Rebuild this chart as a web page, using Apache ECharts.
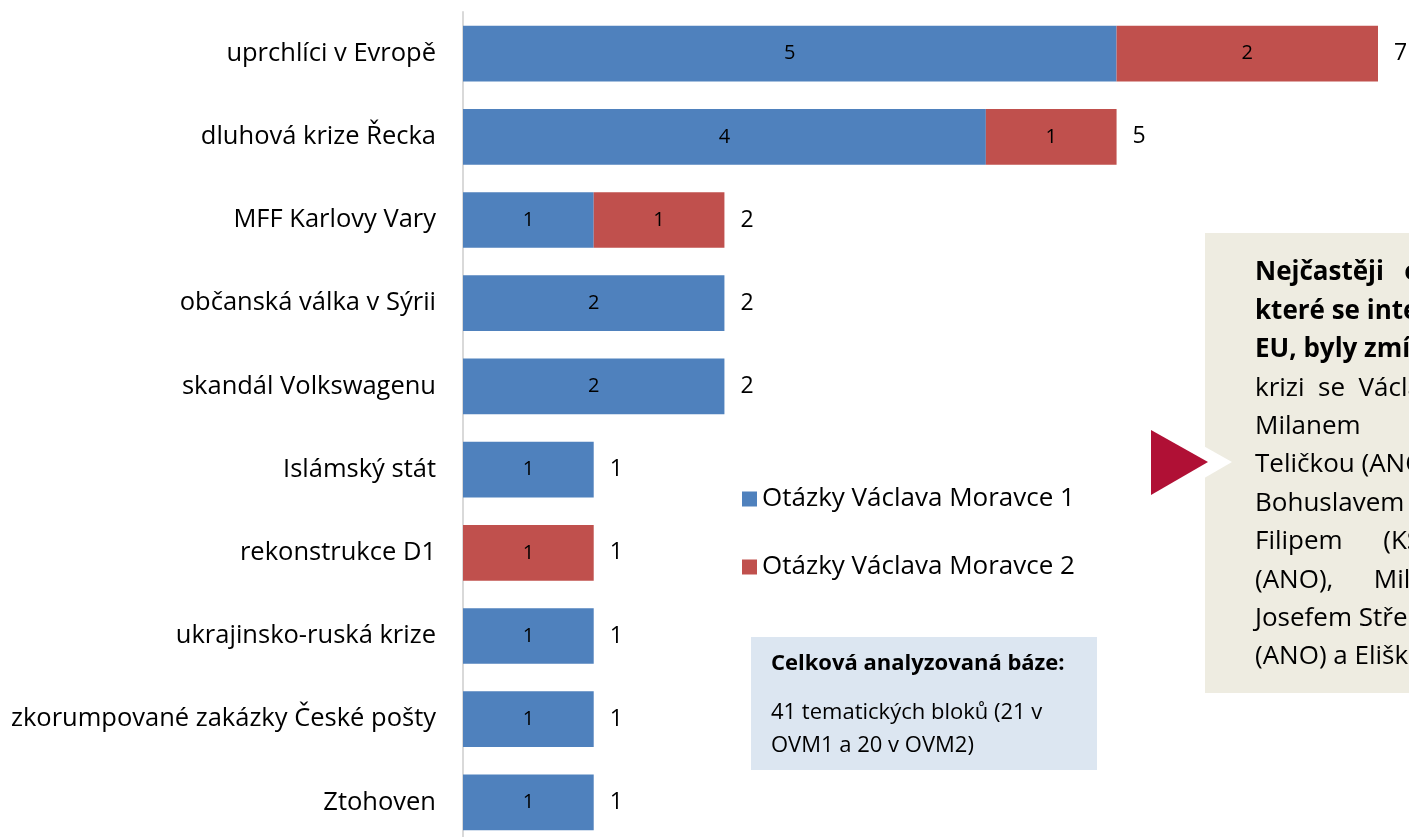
<!DOCTYPE html>
<html>
<head>
<meta charset="utf-8">
<script src="https://cdn.jsdelivr.net/npm/echarts@6/dist/echarts.min.js"></script>
<style>
  html, body { margin: 0; padding: 0; background: #fff; }
  #Chart { width: 1409px; height: 837px; }
</style>
</head>
<body>
<div id="Chart"></div>
<script>
  // temata a pocty blokovych zminek
  var categories = ['uprchlíci v Evropě', 'dluhová krize Řecka', 'MFF Karlovy Vary', 'občanská válka v Sýrii',
    'skandál Volkswagenu', 'Islámský stát', 'rekonstrukce D1', 'ukrajinsko-ruská krize',
    'zkorumpované zakázky České pošty', 'Ztohoven']
  var ovm1 = [5, 4, 1, 2, 2, 1, 0, 1, 1, 1]
  var ovm2 = [2, 1, 1, 0, 0, 0, 1, 0, 0, 0]
  var totals = [7, 5, 2, 2, 2, 1, 1, 1, 1, 1]
  var seriesNames = ['Otázky Václava Moravce 1', 'Otázky Václava Moravce 2']

  var FONT = '"Open Sans", sans-serif'
  var Chart = echarts.init(document.getElementById('Chart'))

  // nuly se nepopisuji
  function hideZero(p) {
    return p.value ? '{v|' + p.value + '}' : ''
  }

  var boxLines = [
    { t: 'Nejčastěji   o uprchlické', b: true },
    { t: 'které se intenzivně řeší', b: true },
    { t: 'EU, byly zmíněny debaty', b: true },
    { t: 'krizi  se  Václavem  Klausem', b: false },
    { t: 'Milanem         Chovancem', b: false },
    { t: 'Teličkou (ANO), Martinem', b: false },
    { t: 'Bohuslavem Sobotkou (ČSSD)', b: false },
    { t: 'Filipem      (KSČM),    Jaroslavem', b: false },
    { t: '(ANO),      Milošem    Zemanem', b: false },
    { t: 'Josefem Středulou, Andrejem', b: false },
    { t: '(ANO) a Eliškou Wagnerovou', b: false }
  ]

  var graphics = [
    { type: 'rect', x: 751, y: 637, shape: { width: 346, height: 133 }, style: { fill: '#dce6f1' }, z: 1 },
    { type: 'text', x: 771, y: 664, z: 2, style: { text: 'Celková analyzovaná báze:', font: 'bold 22px ' + FONT, fill: '#000', verticalAlign: 'middle' } },
    { type: 'text', x: 771, y: 713, z: 2, style: { text: '41 tematických bloků (21 v', font: '22px ' + FONT, fill: '#000', verticalAlign: 'middle' } },
    { type: 'text', x: 771, y: 746, z: 2, style: { text: 'OVM1 a 20 v OVM2)', font: '22px ' + FONT, fill: '#000', verticalAlign: 'middle' } },
    { type: 'rect', x: 1205, y: 233, shape: { width: 220, height: 460 }, style: { fill: '#eeece1' }, z: 1 },
    { type: 'polygon', shape: { points: [[1175, 430], [1232, 462], [1175, 495]] }, style: { fill: '#ffffff' }, z: 2 },
    { type: 'polygon', shape: { points: [[1151, 430], [1208, 462], [1151, 495]] }, style: { fill: '#b01035' }, z: 3 }
  ]
  boxLines.forEach(function (l, i) {
    graphics.push({
      type: 'text', x: 1255, y: 273 + i * 38.4, z: 4,
      style: { text: l.t, font: (l.b ? 'bold ' : '') + '26px ' + FONT, fill: '#000', verticalAlign: 'middle' }
    })
  })

  var insideLabel = {
    show: true,
    position: 'inside',
    color: '#000',
    fontSize: 20,
    formatter: hideZero,
    rich: {
      v: { fontSize: 20, fontFamily: FONT, color: '#000' }
    }
  }

  Chart.setOption({
    animation: false,
    textStyle: { fontFamily: FONT },
    grid: { left: 463, top: 12, width: 915, height: 832, outerBoundsMode: 'none' },
    legend: {
      orient: 'vertical',
      left: 737,
      top: 481,
      itemGap: 42,
      itemWidth: 15,
      itemHeight: 15,
      icon: 'rect',
      textStyle: { fontSize: 26, color: '#000', fontFamily: FONT },
      data: seriesNames
    },
    xAxis: {
      type: 'value',
      min: 0,
      max: 7,
      show: false
    },
    yAxis: {
      type: 'category',
      inverse: true,
      data: categories,
      axisLine: { show: true, lineStyle: { color: '#d9d9d9', width: 2 } },
      axisTick: { show: false },
      axisLabel: { margin: 27, fontSize: 25.5, color: '#000', fontFamily: FONT }
    },
    graphic: graphics,
    series: [
      {
        name: seriesNames[0],
        type: 'bar',
        stack: 'celkem',
        barCategoryGap: '33%',
        data: ovm1,
        itemStyle: { color: '#4f81bd' },
        label: insideLabel
      },
      {
        name: seriesNames[1],
        type: 'bar',
        stack: 'celkem',
        data: ovm2,
        itemStyle: { color: '#c0504d' },
        label: insideLabel
      },
      {
        name: 'celkem',
        type: 'bar',
        barGap: '-100%',
        data: totals,
        silent: true,
        itemStyle: { color: 'rgba(0,0,0,0)' },
        label: { show: true, position: 'right', distance: 16, fontSize: 23, color: '#000' },
        z: 1
      }
    ]
  })
</script>
</body>
</html>
